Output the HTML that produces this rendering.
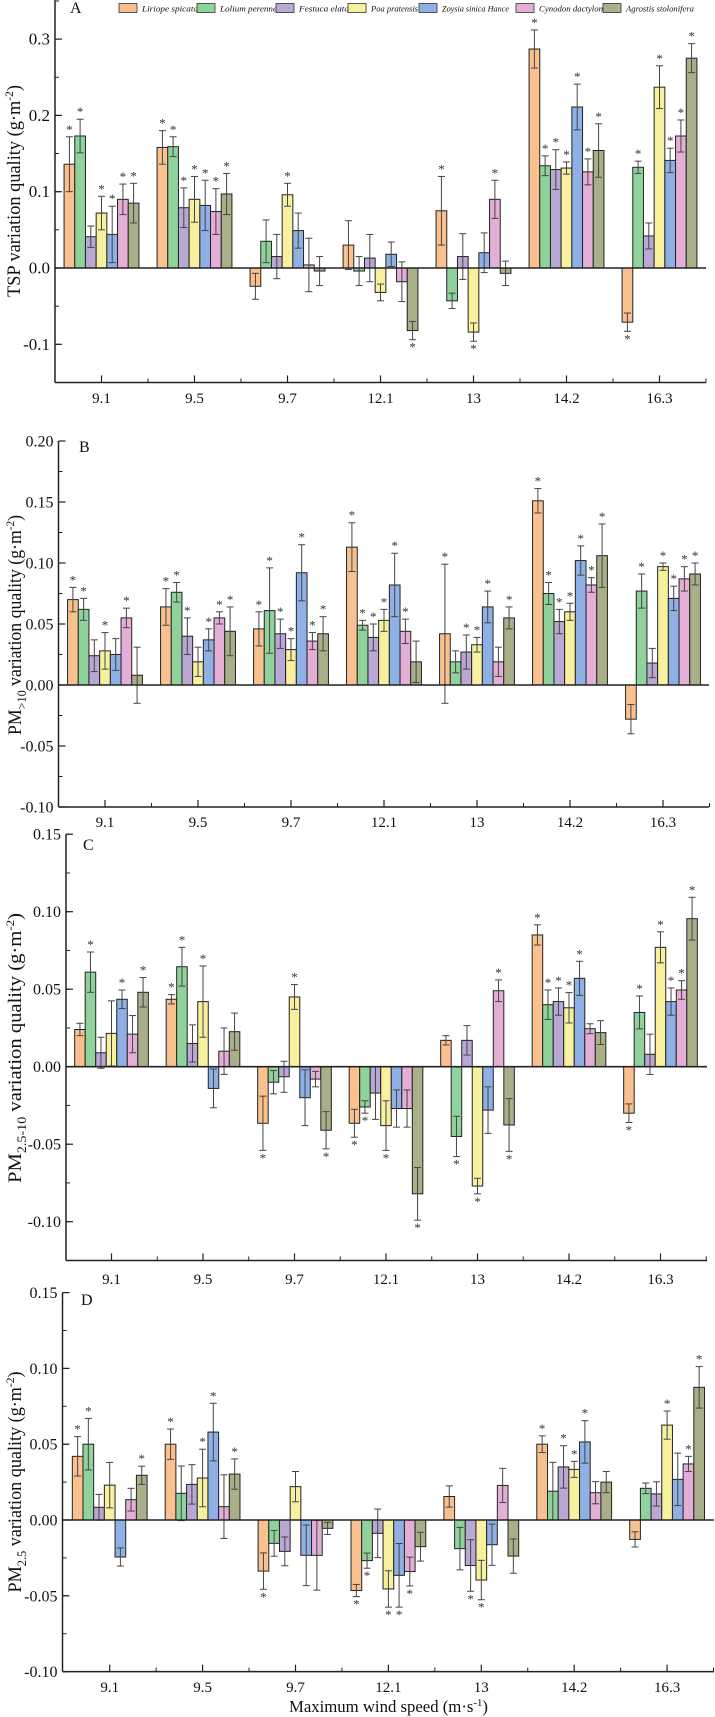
<!DOCTYPE html>
<html><head><meta charset="utf-8"><style>
html,body{margin:0;padding:0;background:#fff}
svg{display:block;font-family:"Liberation Serif",serif}
</style></head><body>
<svg id="chart" width="715" height="1717" viewBox="0 0 715 1717" xmlns="http://www.w3.org/2000/svg"></svg>
<script>
const categories = ["9.1","9.5","9.7","12.1","13","14.2","16.3"];
const seriesNames = ["Liriope spicata","Lolium perenne","Festuca elata","Poa pratensis","Zoysia sinica Hance","Cynodon dactylon","Agrostis stolonifera"];
const seriesColors = ["#f9c18f","#8fd29b","#b9a7d4","#f7f19f","#8fb0e4","#e4afd6","#a9af88"];

// Panel A: TSP
const aVals = [
 [0.136,0.158,-0.024,0.030,0.075,0.287,-0.071],
 [0.173,0.159,0.035,-0.004,-0.043,0.134,0.132],
 [0.041,0.079,0.015,0.013,0.015,0.129,0.042],
 [0.072,0.090,0.096,-0.032,-0.084,0.131,0.237],
 [0.044,0.082,0.049,0.018,0.020,0.211,0.141],
 [0.090,0.074,0.004,-0.018,0.090,0.126,0.173],
 [0.085,0.097,-0.004,-0.082,-0.007,0.154,0.275]];
const aErr = [
 [0.036,0.022,0.017,0.032,0.045,0.025,0.012],
 [0.022,0.013,0.028,0.019,0.010,0.013,0.008],
 [0.014,0.026,0.029,0.031,0.030,0.026,0.017],
 [0.022,0.030,0.015,0.011,0.012,0.008,0.028],
 [0.037,0.033,0.023,0.016,0.026,0.030,0.016],
 [0.020,0.030,0.035,0.026,0.025,0.017,0.021],
 [0.026,0.027,0.019,0.012,0.016,0.035,0.019]];
const aStar = [
 [1,1,0,0,1,1,1],[1,1,0,0,0,1,1],[0,1,0,0,0,1,0],[1,1,1,0,1,1,1],
 [1,1,0,0,0,1,1],[1,1,0,0,1,1,1],[1,1,0,1,0,1,1]];

// Panel B: PM>10
const bVals = [
 [0.070,0.064,0.046,0.113,0.042,0.151,-0.028],
 [0.062,0.076,0.061,0.049,0.019,0.075,0.077],
 [0.024,0.040,0.042,0.039,0.027,0.052,0.018],
 [0.028,0.019,0.029,0.053,0.033,0.060,0.097],
 [0.025,0.037,0.092,0.082,0.064,0.102,0.071],
 [0.055,0.055,0.036,0.044,0.019,0.082,0.087],
 [0.008,0.044,0.042,0.019,0.055,0.106,0.091]];
const bErr = [
 [0.010,0.015,0.014,0.020,0.057,0.010,0.012],
 [0.009,0.008,0.035,0.004,0.009,0.009,0.014],
 [0.013,0.015,0.012,0.011,0.014,0.010,0.012],
 [0.015,0.012,0.009,0.009,0.006,0.007,0.003],
 [0.013,0.009,0.023,0.026,0.013,0.012,0.010],
 [0.008,0.005,0.007,0.010,0.012,0.006,0.010],
 [0.023,0.020,0.014,0.017,0.009,0.026,0.009]];
const bStar = [
 [1,1,1,1,1,1,0],[1,1,1,1,0,1,1],[0,1,1,1,1,1,0],[1,0,1,1,1,1,1],
 [0,1,1,1,1,1,1],[1,1,1,1,0,1,1],[0,1,1,0,1,1,1]];

// Panel C: PM2.5-10
const cVals = [
 [0.024,0.0435,-0.0365,-0.0365,0.017,0.085,-0.030],
 [0.061,0.0645,-0.010,-0.026,-0.045,0.040,0.035],
 [0.009,0.015,-0.0065,-0.017,0.017,0.042,0.008],
 [0.0215,0.042,0.045,-0.038,-0.077,0.038,0.077],
 [0.0435,-0.014,-0.020,-0.027,-0.028,0.057,0.042],
 [0.021,0.010,-0.008,-0.027,0.049,0.0245,0.0495],
 [0.048,0.0226,-0.041,-0.082,-0.0376,0.022,0.0955]];
const cErr = [
 [0.004,0.003,0.0175,0.009,0.003,0.0065,0.006],
 [0.013,0.0125,0.0075,0.004,0.013,0.0095,0.0106],
 [0.010,0.012,0.010,0.017,0.0095,0.0088,0.013],
 [0.021,0.023,0.008,0.016,0.005,0.0098,0.010],
 [0.006,0.0125,0.018,0.012,0.015,0.011,0.0088],
 [0.012,0.015,0.005,0.012,0.007,0.0032,0.006],
 [0.0095,0.012,0.012,0.017,0.017,0.0077,0.0138]];
const cStar = [
 [0,1,1,1,0,1,1],[1,1,0,1,1,1,1],[0,0,0,0,0,1,0],[0,1,1,1,1,1,1],
 [1,0,0,0,0,1,1],[0,0,0,0,1,0,1],[1,0,1,1,1,0,1]];

// Panel D: PM2.5
const dVals = [
 [0.042,0.050,-0.0337,-0.0465,0.0155,0.050,-0.0128],
 [0.050,0.0176,-0.0154,-0.0268,-0.0189,0.019,0.0209],
 [0.0084,0.0235,-0.0207,-0.0088,-0.030,0.035,0.0172],
 [0.023,0.0277,0.022,-0.0455,-0.0396,0.0334,0.0626],
 [-0.0244,0.058,-0.0233,-0.0365,-0.0163,0.0515,0.0268],
 [0.0134,0.0088,-0.0233,-0.034,0.0228,0.018,0.037],
 [0.0295,0.0303,-0.0055,-0.0176,-0.0238,0.025,0.0875]];
const dErr = [
 [0.013,0.010,0.012,0.004,0.007,0.0055,0.005],
 [0.017,0.018,0.0085,0.005,0.014,0.019,0.0035],
 [0.0085,0.013,0.0095,0.016,0.017,0.014,0.008],
 [0.015,0.019,0.010,0.012,0.013,0.0053,0.0093],
 [0.006,0.019,0.020,0.021,0.0136,0.014,0.0173],
 [0.0075,0.021,0.023,0.0095,0.0113,0.0073,0.005],
 [0.006,0.010,0.004,0.0095,0.0113,0.007,0.0137]];
const dStar = [
 [1,1,1,1,0,1,0],[1,0,0,1,0,0,0],[0,0,0,0,1,1,0],[0,1,0,1,1,1,1],
 [0,1,0,1,0,1,0],[0,0,0,1,0,0,1],[1,1,0,0,0,0,1]];

const NS = "http://www.w3.org/2000/svg";
const svg = document.getElementById('chart');
function mk(tag, attrs, parent){
  const e = document.createElementNS(NS, tag);
  for (const k in attrs) e.setAttribute(k, attrs[k]);
  (parent||svg).appendChild(e); return e;
}

const panels = [
 {id:'a', vals:aVals, err:aErr, star:aStar, axisX:55, right:706, zeroY:268, ppu:763, vmin:-0.15, vmax:0.351, major:[-0.1,0,0.1,0.2,0.3], minorStep:0.05, dec:1, cat0:101.5, step:93, xLabY:403, tickFont:17, letter:'A', letX:70, letY:13, titleX:20, titleY:191, titleLen:212, sub:null},
 {id:'b', vals:bVals, err:bErr, star:bStar, axisX:58.5, right:709, zeroY:685, ppu:1220, vmin:-0.10, vmax:0.20, major:[-0.10,-0.05,0,0.05,0.10,0.15,0.20], minorStep:0.025, dec:2, cat0:105, step:93, xLabY:827, tickFont:16, letter:'B', letX:79, letY:452, titleX:21, titleY:625, titleLen:220, sub:'>10'},
 {id:'c', vals:cVals, err:cErr, star:cStar, axisX:66, right:707, zeroY:1066.7, ppu:1550, vmin:-0.125, vmax:0.15, major:[-0.10,-0.05,0,0.05,0.10,0.15], minorStep:0.025, dec:2, cat0:111.5, step:91.5, xLabY:1284, tickFont:16, letter:'C', letX:83, letY:850, titleX:21, titleY:1048, titleLen:270, sub:'2.5-10'},
 {id:'d', vals:dVals, err:dErr, star:dStar, axisX:62.5, right:714, zeroY:1520, ppu:1516, vmin:-0.10, vmax:0.15, major:[-0.10,-0.05,0,0.05,0.10,0.15], minorStep:0.025, dec:2, cat0:109.7, step:92.9, xLabY:1692, tickFont:16, letter:'D', letX:81, letY:1305, titleX:21, titleY:1482, titleLen:221, sub:'2.5'}
];

panels.forEach(p => {
  const g = mk('g', {});
  
  
  const y = v => p.zeroY - v * p.ppu;
  const xc = i => p.cat0 + i * p.step;
  const bw = p.step * 0.115;
  const yTop = y(p.vmax), yBot = y(p.vmin);

  for (let s = 0; s < p.vals.length; s++) {
    for (let c = 0; c < categories.length; c++) {
      const v = p.vals[s][c], e = p.err[s][c];
      const x0 = xc(c) - 3.5 * bw + s * bw;
      const r = mk('rect', {x:x0, y:Math.min(y(v), y(0)), width:bw, height:Math.abs(y(v)-y(0)), fill:seriesColors[s], stroke:'#222', 'stroke-width':1}, g);
      
      
      const cx = x0 + bw / 2;
      const eb = mk('g', {stroke:'#444', 'stroke-width':1}, g);
      
      
      mk('line', {x1:cx, x2:cx, y1:y(v-e), y2:y(v+e)}, eb);
      mk('line', {x1:cx-3.5, x2:cx+3.5, y1:y(v-e), y2:y(v-e)}, eb);
      mk('line', {x1:cx-3.5, x2:cx+3.5, y1:y(v+e), y2:y(v+e)}, eb);
      if (p.star[s][c]) {
        const sy = v >= 0 ? y(v+e) - 3 : y(v-e) + 12;
        const st = mk('text', {x:cx, y:sy, 'text-anchor':'middle', 'font-size':13, fill:'#333'}, g);
        
        
        st.textContent = '*';
      }
    }
  }
  const zl = mk('line', {x1:p.axisX, x2:p.right, y1:y(0), y2:y(0), stroke:'#222', 'stroke-width':1.6}, g);
  
  
  const ya = mk('line', {x1:p.axisX, x2:p.axisX, y1:yTop, y2:yBot, stroke:'#222', 'stroke-width':1.5}, g);
  
  
  const xa = mk('line', {x1:p.axisX, x2:p.right, y1:yBot, y2:yBot, stroke:'#222', 'stroke-width':1.5}, g);
  
  
  for (let v = Math.ceil(p.vmin / p.minorStep) * p.minorStep; v <= p.vmax + 1e-9; v += p.minorStep) {
    mk('line', {x1:p.axisX, x2:p.axisX+4, y1:y(v), y2:y(v), stroke:'#222', 'stroke-width':1}, g);
  }
  p.major.forEach(v => {
    mk('line', {x1:p.axisX, x2:p.axisX+7, y1:y(v), y2:y(v), stroke:'#222', 'stroke-width':1.2}, g);
    const t = mk('text', {x:p.axisX-5, y:y(v)+5.5, 'text-anchor':'end', 'font-size':p.tickFont, fill:'#111'}, g);
    
    
    t.textContent = v.toFixed(p.dec);
  });
  categories.forEach((cat, i) => {
    mk('line', {x1:xc(i), x2:xc(i), y1:yBot, y2:yBot-7, stroke:'#222', 'stroke-width':1.2}, g);
    mk('line', {x1:xc(i)+p.step/2, x2:xc(i)+p.step/2, y1:yBot, y2:yBot-4, stroke:'#222', 'stroke-width':1}, g);
    const t = mk('text', {x:xc(i), y:p.xLabY, 'text-anchor':'middle', 'font-size':15, fill:'#111'}, g);
    
    
    t.textContent = cat;
  });
  const L = mk('text', {x:p.letX, y:p.letY, 'font-size':16, fill:'#111'}, g);
  
  
  L.textContent = p.letter;
  const T = mk('text', {x:0, y:0, 'text-anchor':'middle', 'font-size':19, fill:'#111', transform:'translate('+p.titleX+','+p.titleY+') rotate(-90)', textLength:p.titleLen, lengthAdjust:'spacingAndGlyphs'}, g);
  
  
  if (p.sub === null) {
    T.innerHTML = 'TSP variation quality (g·m<tspan font-size="12" dy="-7">-2</tspan><tspan dy="7">)</tspan>';
  } else {
    T.innerHTML = 'PM<tspan font-size="13" dy="5">' + p.sub.replace('>','&gt;') + '</tspan><tspan dy="-5"> variation quality (g·m</tspan><tspan font-size="12" dy="-7">-2</tspan><tspan dy="7">)</tspan>';
  }
});

const legX = [119,197,276,348,419,516,603];
const legW = [56,57,50,47,67,64,68];
const lg = mk('g', {});


seriesNames.forEach((n, i) => {
  const e = mk('g', {}, lg);
  
  
  mk('rect', {x:legX[i], y:3.5, width:18, height:9, fill:seriesColors[i], stroke:'#333', 'stroke-width':0.8}, e);
  const t = mk('text', {x:legX[i]+23, y:11.5, 'font-size':8, 'font-style':'italic', fill:'#111', textLength:legW[i], lengthAdjust:'spacingAndGlyphs'}, e);
  t.textContent = n;
});

const xt = mk('text', {x:289, y:1712, 'font-size':17, fill:'#111', textLength:199, lengthAdjust:'spacingAndGlyphs'});


xt.innerHTML = 'Maximum wind speed (m·s<tspan font-size="11" dy="-6">-1</tspan><tspan dy="6">)</tspan>';
</script>
</body></html>
